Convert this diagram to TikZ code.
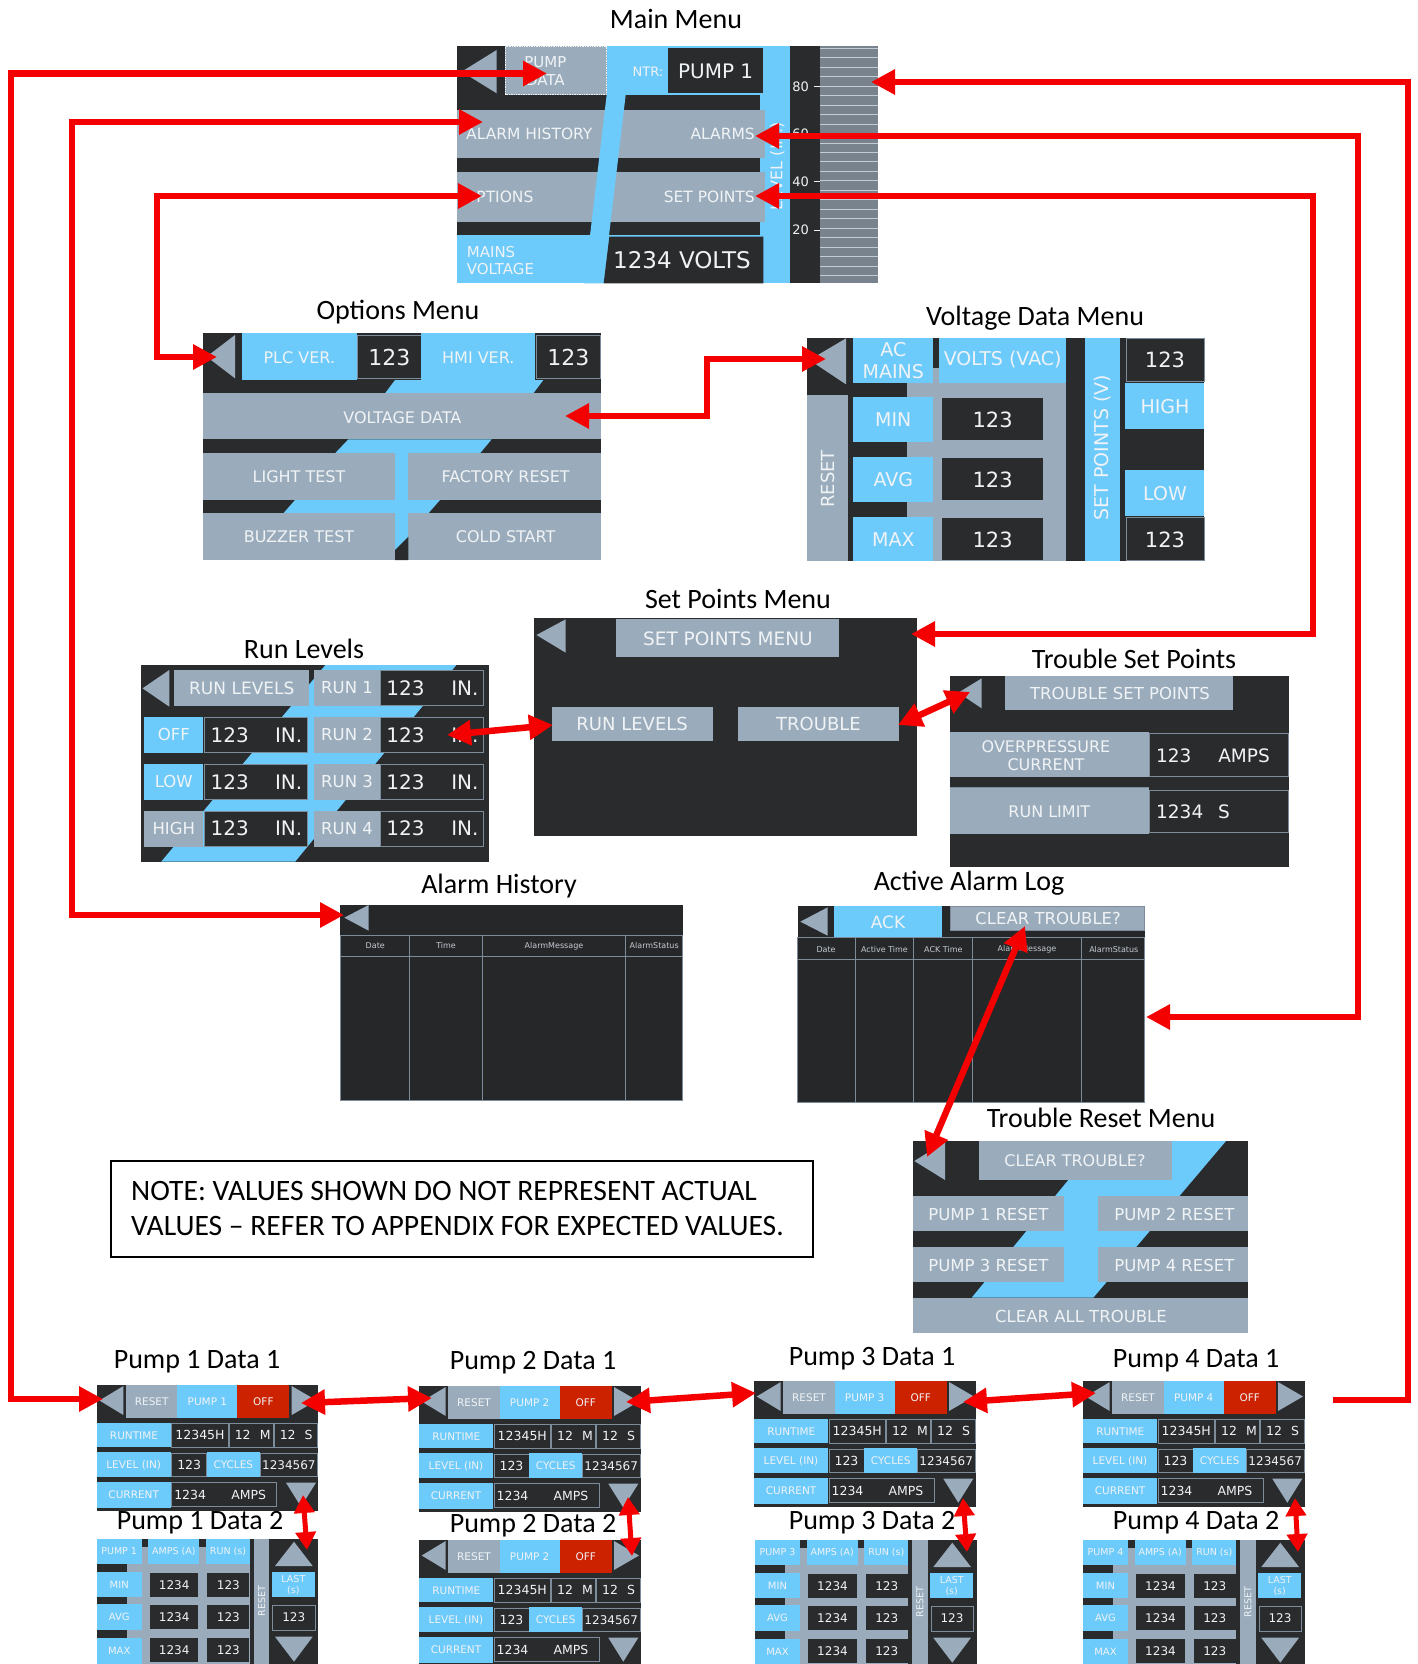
\documentclass[tikz,border=0pt]{standalone}
\usepackage{fontspec}
\setmainfont{Carlito}
\newfontfamily\scr{DejaVu Sans}
\usetikzlibrary{arrows.meta}
\definecolor{scrbg}{HTML}{2A2B2D}
\definecolor{scrbgb}{HTML}{262729}
\definecolor{btn}{HTML}{9AACBB}
\definecolor{blu}{HTML}{6DCBFB}
\definecolor{txt}{HTML}{F0F3F6}
\definecolor{offred}{HTML}{CC2200}
\definecolor{ared}{HTML}{F40000}
\definecolor{graphc}{HTML}{78838D}
\definecolor{gline}{HTML}{C5CCD2}
\definecolor{bord}{HTML}{7C8C9A}
\tikzset{
  tx/.style={font=\scr\fontsize{#1}{#1}\selectfont,text=txt,inner sep=0pt},
  ttl/.style={font=\fontsize{28}{30}\selectfont,text=black,inner sep=0pt},
  arr/.style={draw=ared,line width=6.5pt,{Triangle[length=24pt,width=24pt]}-{Triangle[length=24pt,width=24pt]}},
  arrone/.style={draw=ared,line width=6.5pt,{Triangle[length=24pt,width=24pt]}-},
  arrs/.style={draw=ared,line width=5pt,{Triangle[length=18pt,width=20pt]}-{Triangle[length=18pt,width=20pt]}},
  bx/.style={draw=bord,line width=0.8pt,fill=scrbg}
}
\newcommand{\pumpone}[4]{%
\begin{scope}[shift={(#1,#2)}]
\fill[scrbg] (0,0) rectangle (221.7,125.7);
\fill[btn] (2.7,15.5) -- (26.7,1) -- (26.7,30) -- cycle;
\fill[btn] (29.3,0) rectangle (80.7,32.7);
\fill[blu] (80.7,0) rectangle (140.7,32.7);
\fill[offred] (140.7,0) rectangle (192.7,32.7);
\fill[btn] (195,1) -- (195,30) -- (220,15.5) -- cycle;
\fill[blu] (0,37.7) rectangle (74,62.3);
\draw[bx] (75,38.3) rectangle (131.7,62.3);
\draw[bx] (132.7,38.3) rectangle (176.7,62.3);
\draw[bx] (177.7,38.3) rectangle (221,62.3);
\fill[blu] (0,67.3) rectangle (74,92.3);
\draw[bx] (75,68) rectangle (110,91.7);
\fill[blu] (110,67.3) rectangle (163.3,92.3);
\draw[bx] (163.3,68) rectangle (221,91.7);
\fill[blu] (0,96.7) rectangle (74,123.3);
\draw[bx] (75,97.7) rectangle (180,121.7);
\fill[btn] (189.3,97.7) -- (219.3,97.7) -- (204.3,121.7) -- cycle;
\node[tx=10.5] (#4-rs) at (55,16.3) {RESET};
\node[tx=10.5] (#4-pn) at (110.7,16.3) {PUMP #3};
\node[tx=10.5] (#4-off) at (166.7,16.3) {OFF};
\node[tx=10.5] (#4-rt) at (37.3,50.3) {RUNTIME};
\node[tx=12.5] (#4-h) at (103.3,50.3) {12345H};
\node[tx=12.5] (#4-m1) at (146,50.3) {12};
\node[tx=12.5] (#4-m2) at (168.5,50.3) {M};
\node[tx=12.5] (#4-s1) at (191,50.3) {12};
\node[tx=12.5] (#4-s2) at (212,50.3) {S};
\node[tx=10.5] (#4-lv) at (37,80) {LEVEL (IN)};
\node[tx=12.5] (#4-lvv) at (92.5,80) {123};
\node[tx=10.5] (#4-cy) at (136.7,80) {CYCLES};
\node[tx=12] (#4-cyv) at (192.2,80) {1234567};
\node[tx=10.5] (#4-cu) at (37,110) {CURRENT};
\node[tx=12.5] (#4-cuv) at (93.5,110) {1234};
\node[tx=12.5] (#4-cua) at (152,110) {AMPS};
\end{scope}}
\newcommand{\pumptwo}[4]{%
\begin{scope}[shift={(#1,#2)}]
\fill[scrbg] (0,0) rectangle (221.7,125);
\fill[btn] (0,0) rectangle (153.3,125);
\fill[scrbg] (45,0) rectangle (51.7,7.7);
\fill[scrbg] (102.7,0) rectangle (109.3,7.7);
\fill[blu] (0,0) rectangle (45,25);
\fill[blu] (51.7,0) rectangle (102.7,25);
\fill[blu] (109.3,0) rectangle (153.3,25);
\fill[scrbg] (0,25) rectangle (30,32.7);
\fill[scrbg] (0,58.3) rectangle (30,65.3);
\fill[scrbg] (0,91) rectangle (30,98.7);
\fill[blu] (0,32.7) rectangle (45,58.3);
\fill[blu] (0,65.3) rectangle (45,91);
\fill[blu] (0,98.7) rectangle (45,125);
\fill[scrbg] (53.3,33.7) rectangle (101.7,57.7);
\fill[scrbg] (110.7,33.7) rectangle (152.7,57.7);
\fill[scrbg] (53.3,66.3) rectangle (101.7,90.3);
\fill[scrbg] (110.7,66.3) rectangle (152.7,90.3);
\fill[scrbg] (53.3,99.3) rectangle (101.7,123.3);
\fill[scrbg] (110.7,99.3) rectangle (152.7,123.3);
\fill[btn] (157.3,0) rectangle (172.7,125);
\fill[btn] (178.3,27) -- (216,27) -- (197.3,2.7) -- cycle;
\fill[blu] (175,32.7) rectangle (218.3,58.3);
\draw[bx] (176,66) rectangle (218.3,91);
\fill[btn] (178.3,97.7) -- (216,97.7) -- (197.3,122.7) -- cycle;
\node[tx=9.5] (#4-pn) at (22.5,12.5) {PUMP #3};
\node[tx=9.5] (#4-am) at (77.2,12.5) {AMPS (A)};
\node[tx=9.5] (#4-ru) at (131.3,12.5) {RUN (s)};
\node[tx=10] (#4-mi) at (22.5,45.5) {MIN};
\node[tx=10] (#4-av) at (22.5,78) {AVG};
\node[tx=10] (#4-ma) at (22.5,112) {MAX};
\node[tx=12] (#4-a1) at (77.5,45.7) {1234};
\node[tx=12] (#4-b1) at (131.7,45.7) {123};
\node[tx=12] (#4-a2) at (77.5,78.3) {1234};
\node[tx=12] (#4-b2) at (131.7,78.3) {123};
\node[tx=12] (#4-a3) at (77.5,111.3) {1234};
\node[tx=12] (#4-b3) at (131.7,111.3) {123};
\node[tx=9.5,rotate=90] (#4-rs) at (165,62) {RESET};
\node[tx=9.5] (#4-l1) at (196.7,40.5) {LAST};
\node[tx=9.5] (#4-l2) at (196.7,51.5) {(s)};
\node[tx=12] (#4-lv) at (197,78.5) {123};
\end{scope}}
\begin{document}
\begin{tikzpicture}[x=1pt,y=-1pt]
\useasboundingbox (0,0) rectangle (1417,1664);
\clip (0,0) rectangle (1417,1664);
\fill[white] (0,0) rectangle (1417,1664);

% ---------------- Main Menu
\node[ttl] (t-main) at (676,19) {Main Menu};
\begin{scope}[shift={(450,40)},scale=1/3]
\fill[blu] (20,18) rectangle (1020,730);
\fill[scrbg] (20,18) rectangle (165,165);
\fill[btn] (35,95) -- (140,30) -- (140,160) -- cycle;
\fill[btn] (165,18) rectangle (470,165);
\draw[txt,densely dotted,line width=0.7pt] (167,20) rectangle (468,163);
\fill[scrbg] (655,25) rectangle (940,160);
\fill[scrbg] (20,165) rectangle (930,210);
\fill[btn] (20,210) rectangle (945,355);
\fill[scrbg] (20,355) rectangle (930,395);
\fill[btn] (20,395) rectangle (945,545);
\fill[scrbg] (20,545) rectangle (930,585);
\fill[blu] (470,165) -- (527,165) -- (460,730) -- (403,730) -- cycle;
\fill[scrbg] (478,590) -- (940,590) -- (940,730) -- (461,730) -- cycle;
\fill[scrbg] (1020,18) rectangle (1110,730);
\fill[graphc] (1110,18) rectangle (1283,730);
\foreach \k in {0,...,24} \draw[gline,line width=0.9pt] (1110,{25+28.4*\k}) -- (1283,{25+28.4*\k});
\foreach \v/\yy in {80/140,60/280,40/425,20/570} {
  \draw[txt,line width=0.8pt] (1093,\yy) -- (1110,\yy);
  \node[tx=13] (mm-s\v) at (1052,\yy) {\v};
}
\node[tx=15] (mm-pd1) at (286,66) {PUMP};
\node[tx=15] (mm-pd2) at (286,120) {DATA};
\node[tx=13] (mm-ntr) at (594,95) {NTR:};
\node[tx=20] (mm-p1) at (797,95) {PUMP 1};
\node[tx=15.5,anchor=west] (mm-ah) at (48,283) {ALARM HISTORY};
\node[tx=15.5,anchor=east] (mm-al) at (915,283) {ALARMS};
\node[tx=15.5,anchor=west] (mm-op) at (42,470) {OPTIONS};
\node[tx=15.5,anchor=east] (mm-sp) at (915,470) {SET POINTS};
\node[tx=15,anchor=west] (mm-mv1) at (50,635) {MAINS};
\node[tx=15,anchor=west] (mm-mv2) at (50,688) {VOLTAGE};
\node[tx=23] (mm-volts) at (696,660) {1234 VOLTS};
\node[tx=16,rotate=90] (mm-lvl) at (982,378) {LEVEL (IN.)};
\end{scope}

% ---------------- Options Menu
\node[ttl] (t-opt) at (398,312) {Options Menu};
\begin{scope}[shift={(195,320)},scale=1/3]
\fill[scrbg] (25,40) rectangle (1218,720);
\fill[btn] (35,110) -- (120,45) -- (120,175) -- cycle;
\fill[blu] (142,40) rectangle (485,180);
\draw[bx] (488,45) rectangle (678,175);
\fill[blu] (678,40) rectangle (1020,180);
\draw[bx] (1025,45) rectangle (1215,175);
\fill[blu] (600,180) -- (1045,180) -- (1015,220) -- (570,220) -- cycle;
\fill[btn] (25,220) rectangle (1218,358);
\fill[blu] (460,358) -- (890,358) -- (855,400) -- (420,400) -- cycle;
\fill[blu] (600,400) rectangle (640,720);
\fill[btn] (25,400) rectangle (600,540);
\fill[btn] (640,400) rectangle (1218,540);
\fill[blu] (300,540) -- (735,540) -- (700,580) -- (265,580) -- cycle;
\fill[btn] (25,580) rectangle (600,720);
\fill[btn] (640,580) rectangle (1218,720);
\fill[scrbg] (600,720) -- (600,690) -- (640,650) -- (640,720) -- cycle;
\node[tx=16] (op-plc) at (313,112) {PLC VER.};
\node[tx=22] (op-plcv) at (583,112) {123};
\node[tx=16] (op-hmi) at (850,112) {HMI VER.};
\node[tx=22] (op-hmiv) at (1120,112) {123};
\node[tx=16] (op-vd) at (622,292) {VOLTAGE DATA};
\node[tx=16] (op-lt) at (312,470) {LIGHT TEST};
\node[tx=16] (op-fr) at (932,470) {FACTORY RESET};
\node[tx=16] (op-bt) at (312,650) {BUZZER TEST};
\node[tx=16] (op-cs) at (932,650) {COLD START};
\end{scope}

% ---------------- Voltage Data Menu
\node[ttl] (t-vd) at (1035,318) {Voltage Data Menu};
\begin{scope}[shift={(800,325)},scale=1/3]
\fill[btn] (22,38) rectangle (1212,708);
\fill[scrbg] (22,38) rectangle (145,210);
\fill[btn] (28,105) -- (138,40) -- (138,178) -- cycle;
\fill[scrbg] (145,38) rectangle (160,708);
\fill[blu] (160,38) rectangle (400,175);
\fill[scrbg] (400,38) rectangle (418,130);
\fill[blu] (418,38) rectangle (798,175);
\fill[scrbg] (160,175) rectangle (320,215);
\fill[blu] (160,215) rectangle (400,350);
\fill[scrbg] (160,350) rectangle (320,395);
\fill[blu] (160,395) rectangle (400,530);
\fill[scrbg] (160,530) rectangle (320,575);
\fill[blu] (160,575) rectangle (400,708);
\fill[scrbg] (425,220) rectangle (730,345);
\fill[scrbg] (425,398) rectangle (730,525);
\fill[scrbg] (425,578) rectangle (730,705);
\fill[scrbg] (798,38) rectangle (855,708);
\fill[blu] (855,38) rectangle (960,708);
\fill[scrbg] (960,38) rectangle (1212,708);
\draw[bx] (978,40) rectangle (1212,170);
\fill[blu] (975,175) rectangle (1212,312);
\fill[blu] (975,435) rectangle (1212,572);
\draw[bx] (978,578) rectangle (1212,705);
\node[tx=19] (vd-ac) at (280,75) {AC};
\node[tx=19] (vd-mains) at (280,140) {MAINS};
\node[tx=19] (vd-volts) at (608,105) {VOLTS (VAC)};
\node[tx=19] (vd-min) at (280,285) {MIN};
\node[tx=19] (vd-avg) at (280,465) {AVG};
\node[tx=19] (vd-max) at (280,645) {MAX};
\node[tx=21] (vd-v1) at (578,285) {123};
\node[tx=21] (vd-v2) at (578,465) {123};
\node[tx=21] (vd-v3) at (578,645) {123};
\node[tx=18,rotate=90] (vd-reset) at (85,462) {RESET};
\node[tx=19,rotate=90] (vd-sp) at (908,368) {SET POINTS (V)};
\node[tx=21] (vd-hv) at (1095,105) {123};
\node[tx=19] (vd-high) at (1095,245) {HIGH};
\node[tx=19] (vd-low) at (1095,505) {LOW};
\node[tx=21] (vd-lv) at (1095,645) {123};
\end{scope}

% ---------------- Run Levels and Set Points Menu
\node[ttl] (t-rl) at (304,649) {Run Levels};
\node[ttl] (t-sp) at (738,599) {Set Points Menu};
\begin{scope}[shift={(135,610)},xscale=1/1.985,yscale=1/3]
\fill[scrbg] (12,165) rectangle (703,755);
\fill[blu] (378,165) -- (638,165) -- (318,755) -- (52,755) -- cycle;
\fill[btn] (15,235) -- (68,180) -- (68,290) -- cycle;
\fill[btn] (78,180) rectangle (345,288);
\node[tx=17] (rl-t) at (212,236) {RUN LEVELS};
\foreach \r/\lab/\col in {0//none,1/OFF/blu,2/LOW/blu,3/HIGH/btn} {
  \pgfmathsetmacro{\yy}{180+140.7*\r}
  \ifnum\r>0
    \fill[\col] (18,\yy) rectangle (135,\yy+108);
    \draw[bx] (137,\yy+1) rectangle (343,\yy+106);
    \node[tx=16.5] (rl-l\r) at (77,\yy+54) {\lab};
    \node[tx=20] (rl-a\r) at (188,\yy+54) {123};
    \node[tx=20] (rl-b\r) at (305,\yy+54) {IN.};
  \fi
  \fill[btn] (355,\yy) rectangle (487,\yy+108);
  \draw[bx] (487,\yy+2) rectangle (692,\yy+106);
  \pgfmathtruncatemacro{\rn}{\r+1}
  \node[tx=16.5] (rl-r\r) at (421,\yy+54) {RUN \rn};
  \node[tx=20] (rl-c\r) at (537,\yy+54) {123};
  \node[tx=20] (rl-d\r) at (655,\yy+54) {IN.};
}
% set points menu
\fill[scrbg] (792,25) rectangle (1552,678);
\fill[btn] (797,75) -- (855,28) -- (855,128) -- cycle;
\fill[btn] (955,28) rectangle (1397,142);
\fill[btn] (827,292) rectangle (1147,393);
\fill[btn] (1197,292) rectangle (1517,393);
\node[tx=18.5] (sp-t) at (1177,85) {SET POINTS MENU};
\node[tx=18] (sp-rl) at (987,343) {RUN LEVELS};
\node[tx=18] (sp-tr) at (1357,343) {TROUBLE};
\end{scope}

% ---------------- Trouble Set Points
\node[ttl] (t-tsp) at (1134,659) {Trouble Set Points};
\begin{scope}[shift={(940,660)},scale=1/3]
\fill[scrbg] (30,48) rectangle (1047,620);
\fill[btn] (55,98) -- (125,55) -- (125,145) -- cycle;
\fill[btn] (195,48) rectangle (880,150);
\fill[btn] (30,215) rectangle (628,352);
\draw[bx] (628,220) rectangle (1045,350);
\draw[bord,line width=0.8pt] (30,383) -- (628,383);
\fill[btn] (30,385) rectangle (628,522);
\draw[bx] (628,390) rectangle (1045,518);
\node[tx=16.5] (ts-t) at (540,100) {TROUBLE SET POINTS};
\node[tx=16] (ts-o1) at (318,260) {OVERPRESSURE};
\node[tx=16] (ts-o2) at (318,315) {CURRENT};
\node[tx=18.5,anchor=west] (ts-ov) at (648,287) {123};
\node[tx=18.5] (ts-oa) at (912,287) {AMPS};
\node[tx=16] (ts-rl) at (328,455) {RUN LIMIT};
\node[tx=18.5,anchor=west] (ts-rv) at (648,455) {1234};
\node[tx=18.5] (ts-rs) at (852,455) {S};
\end{scope}

% ---------------- Alarm History and Active Alarm Log
\node[ttl] (t-ah) at (499,886) {Alarm History};
\node[ttl] (t-aal) at (969,883) {Active Alarm Log};
\begin{scope}[shift={(335,870)},xscale=1/1.936,yscale=1/3]
\fill[scrbgb] (10,105) rectangle (673,690);
\fill[btn] (18,143) -- (65,105) -- (65,182) -- cycle;
\draw[bord,line width=0.9pt] (10,195) rectangle (673,690);
\draw[bord,line width=1.4pt] (10,260) -- (673,260);
\foreach \xx in {145,285,563} \draw[bord,line width=0.9pt] (\xx,195) -- (\xx,690);
\node[tx=8,text=gline] (ah-h1) at (78,228) {Date};
\node[tx=8,text=gline] (ah-h2) at (215,228) {Time};
\node[tx=8,text=gline] (ah-h3) at (424,228) {AlarmMessage};
\node[tx=8,text=gline] (ah-h4) at (618,228) {AlarmStatus};
\end{scope}
\begin{scope}[shift={(338,870)},xscale=1/1.936,yscale=1/3]
\fill[scrbgb] (890,108) rectangle (1562,698);
\fill[btn] (895,155) -- (948,112) -- (948,197) -- cycle;
\fill[blu] (960,108) rectangle (1170,200);
\draw[draw=bord,fill=btn,line width=0.8pt] (1185,110) rectangle (1562,182);
\draw[bord,line width=0.9pt] (890,203) rectangle (1562,698);
\draw[bord,line width=1.4pt] (890,268) -- (1562,268);
\foreach \xx in {1002,1115,1228,1440} \draw[bord,line width=0.9pt] (\xx,203) -- (\xx,698);
\node[tx=17] (al-ack) at (1065,158) {ACK};
\node[tx=16.5] (al-ct) at (1375,145) {CLEAR TROUBLE?};
\node[tx=8,text=gline] (al-h1) at (945,238) {Date};
\node[tx=8,text=gline] (al-h2) at (1058,238) {Active Time};
\node[tx=8,text=gline] (al-h3) at (1172,238) {ACK Time};
\node[tx=8,text=gline] (al-h4) at (1334,238) {AlarmMessage};
\node[tx=8,text=gline] (al-h5) at (1502,238) {AlarmStatus};
\end{scope}

% ---------------- Trouble Reset Menu
\node[ttl] (t-trm) at (1101,1118) {Trouble Reset Menu};
\begin{scope}[shift={(905,1115)},scale=1/3]
\fill[scrbg] (25,78) rectangle (1030,655);
\fill[blu] (586,78) -- (963,78) -- (565,548) -- (200,548) -- cycle;
\fill[blu] (478,243) rectangle (578,500);
\fill[btn] (28,138) -- (120,80) -- (120,195) -- cycle;
\fill[btn] (222,78) rectangle (800,195);
\fill[btn] (25,243) rectangle (478,348);
\fill[btn] (578,243) rectangle (1030,348);
\fill[btn] (25,397) rectangle (478,500);
\fill[btn] (578,397) rectangle (1030,500);
\fill[btn] (25,548) rectangle (1030,655);
\node[tx=16] (tr-ct) at (510,137) {CLEAR TROUBLE?};
\node[tx=16.5] (tr-p1) at (250,297) {PUMP 1 RESET};
\node[tx=16.5] (tr-p2) at (808,297) {PUMP 2 RESET};
\node[tx=16.5] (tr-p3) at (250,450) {PUMP 3 RESET};
\node[tx=16.5] (tr-p4) at (808,450) {PUMP 4 RESET};
\node[tx=16.5] (tr-all) at (528,603) {CLEAR ALL TROUBLE};
\end{scope}

% ---------------- Note
\draw[black,line width=1.3pt] (111,1161) rectangle (813,1257);
\node[font=\fontsize{29.6}{31}\selectfont,anchor=base west,inner sep=0pt] (note1) at (131,1200) {NOTE: VALUES SHOWN DO NOT REPRESENT ACTUAL};
\node[font=\fontsize{29.6}{31}\selectfont,anchor=base west,inner sep=0pt] (note2) at (131,1235) {VALUES -- REFER TO APPENDIX FOR EXPECTED VALUES.};

% ---------------- Pump screens
\node[ttl] (t-p1a) at (197,1362) {Pump 1 Data 1};
\node[ttl] (t-p1b) at (200,1523) {Pump 1 Data 2};
\node[ttl] (t-p2a) at (533,1363) {Pump 2 Data 1};
\node[ttl] (t-p2b) at (533,1526) {Pump 2 Data 2};
\node[ttl] (t-p3a) at (872,1359) {Pump 3 Data 1};
\node[ttl] (t-p3b) at (872,1523) {Pump 3 Data 2};
\node[ttl] (t-p4a) at (1196,1361) {Pump 4 Data 1};
\node[ttl] (t-p4b) at (1196,1523) {Pump 4 Data 2};
\pumpone{96.7}{1385}{1}{pa1}
\pumptwo{96.7}{1539}{1}{pb1}
\pumpone{419}{1386}{2}{pa2}
\pumpone{419}{1540}{2}{pb2}
\pumpone{754}{1381}{3}{pa3}
\pumptwo{755}{1540}{3}{pb3}
\pumpone{1083}{1381}{4}{pa4}
\pumptwo{1083}{1540}{4}{pb4}

% ---------------- connector end points
\coordinate (c-pd) at (547,73.5);
\coordinate (c-pd1) at (11,73.5);
\coordinate (c-pd2) at (11,1399);
\coordinate (c-p1l) at (103,1399);
\coordinate (c-ah) at (483,122);
\coordinate (c-ah1) at (72,122);
\coordinate (c-ah2) at (72,915);
\coordinate (c-ahs) at (344,915);
\coordinate (c-op) at (482,196);
\coordinate (c-op1) at (157,196);
\coordinate (c-op2) at (157,357);
\coordinate (c-ops) at (217,357);
\coordinate (c-vd) at (565,416);
\coordinate (c-vd1) at (707,416);
\coordinate (c-vd2) at (707,359);
\coordinate (c-vds) at (826,359);
\coordinate (c-sp) at (755,196);
\coordinate (c-sp1) at (1313,196);
\coordinate (c-sp2) at (1313,634);
\coordinate (c-sps) at (911,634);
\coordinate (c-al) at (755,136);
\coordinate (c-al1) at (1358,136);
\coordinate (c-al2) at (1358,1017);
\coordinate (c-als) at (1146,1017);
\coordinate (c-lv) at (871,82);
\coordinate (c-lv1) at (1408,82);
\coordinate (c-lv2) at (1408,1400);
\coordinate (c-lv3) at (1333,1400);
\coordinate (c-rl1) at (447,735);
\coordinate (c-rl2) at (553,725);
\coordinate (c-tr1) at (898,725);
\coordinate (c-tr2) at (970,692);
\coordinate (c-ct1) at (1025,926);
\coordinate (c-ct2) at (927,1157);
\coordinate (c-p12a) at (301,1403);
\coordinate (c-p12b) at (432,1398);
\coordinate (c-p23a) at (626,1402);
\coordinate (c-p23b) at (756,1393);
\coordinate (c-p34a) at (963,1402);
\coordinate (c-p34b) at (1096,1393);
\coordinate (c-v1a) at (303,1495);
\coordinate (c-v1b) at (307,1550);
\coordinate (c-v2a) at (628,1497);
\coordinate (c-v2b) at (632,1556);
\coordinate (c-v3a) at (963,1498);
\coordinate (c-v3b) at (967,1552);
\coordinate (c-v4a) at (1295,1498);
\coordinate (c-v4b) at (1298,1552);

% ---------------- red connectors
\draw[arr] (c-pd) -- (c-pd1) -- (c-pd2) -- (c-p1l);
\draw[arr] (c-ah) -- (c-ah1) -- (c-ah2) -- (c-ahs);
\draw[arr] (c-op) -- (c-op1) -- (c-op2) -- (c-ops);
\draw[arr] (c-vd) -- (c-vd1) -- (c-vd2) -- (c-vds);
\draw[arr] (c-sp) -- (c-sp1) -- (c-sp2) -- (c-sps);
\draw[arr] (c-al) -- (c-al1) -- (c-al2) -- (c-als);
\draw[arrone] (c-lv) -- (c-lv1) -- (c-lv2) -- (c-lv3);
\draw[arr] (c-rl1) -- (c-rl2);
\draw[arr] (c-tr1) -- (c-tr2);
\draw[arr] (c-ct1) -- (c-ct2);
\draw[arr] (c-p12a) -- (c-p12b);
\draw[arr] (c-p23a) -- (c-p23b);
\draw[arr] (c-p34a) -- (c-p34b);
\draw[arrs] (c-v1a) -- (c-v1b);
\draw[arrs] (c-v2a) -- (c-v2b);
\draw[arrs] (c-v3a) -- (c-v3b);
\draw[arrs] (c-v4a) -- (c-v4b);
\end{tikzpicture}
\end{document}
